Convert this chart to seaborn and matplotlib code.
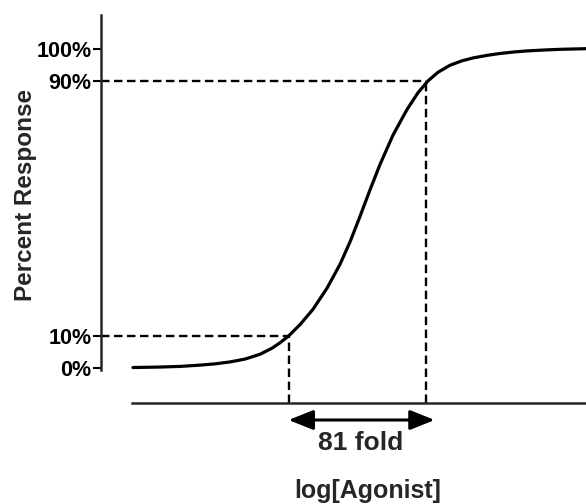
import matplotlib
matplotlib.use("Agg")
import matplotlib.pyplot as plt
import seaborn as sns
import pandas as pd

# ---- data ----
log_agonist = [-9.142, -8.763, -8.482, -8.202, -7.992, -7.781, -7.571, -7.360,
               -7.192, -7.080, -6.961, -6.799, -6.617, -6.421, -6.238, -6.098,
               -5.958, -5.818, -5.677, -5.495, -5.299, -5.144, -5.004, -4.864,
               -4.696, -4.527, -4.373, -4.177, -3.994, -3.784, -3.616, -3.363,
               -3.153, -2.788]
response = [0.15, 0.3, 0.5, 0.9, 1.3, 1.9, 2.8, 4.3,
            6.2, 7.9, 10.0, 13.6, 18.4, 25.0, 32.5, 39.5,
            47.5, 55.8, 63.8, 73.0, 81.0, 86.3, 90.0, 92.7,
            94.9, 96.3, 97.2, 98.0, 98.6, 99.1, 99.4, 99.7,
            99.9, 100.1]
ytick_values = [0, 10, 90, 100]
ytick_labels = ["0%", "10%", "90%", "100%"]
ec10_log = -6.96
ec90_log = -5.03
arrow_right_log = -4.91
fold_label = "81 fold"
xlabel = "log[Agonist]"
ylabel = "Percent Response"

df = pd.DataFrame({"log_agonist": log_agonist, "response": response})

sns.set_style("ticks")
plt.rcParams["font.family"] = ["Liberation Sans", "DejaVu Sans"]

fig = plt.figure(figsize=(5.86, 5.04), dpi=100)
ax = fig.add_axes([101 / 586, 101 / 504, 485 / 586, 388 / 504])

xmin, xmax = -9.590, -2.788
ymin, ymax = -10.97, 110.66

sns.lineplot(data=df, x="log_agonist", y="response", color="black", lw=2.3,
             ax=ax, clip_on=False)

dash = (0, (3.6, 1.9))
dash_lw = 1.7
# horizontal dashed guides
ax.plot([xmin, ec10_log], [10, 10], color="black", lw=dash_lw, ls=dash)
ax.plot([xmin, ec90_log], [90, 90], color="black", lw=dash_lw, ls=dash)
# vertical dashed guides
ax.plot([ec10_log, ec10_log], [ymin, 10], color="black", lw=dash_lw, ls=dash)
ax.plot([ec90_log, ec90_log], [ymin, 90], color="black", lw=dash_lw, ls=dash)

ax.set_xlim(xmin, xmax)
ax.set_ylim(ymin, ymax)

for s in ["top", "right"]:
    ax.spines[s].set_visible(False)
ax.spines["left"].set_linewidth(1.8)
ax.spines["bottom"].set_linewidth(1.8)
ax.spines["left"].set_bounds(-0.6, ymax)
ax.spines["bottom"].set_bounds(-9.155, xmax)

ax.set_xticks([])
ax.set_yticks(ytick_values)
ax.set_yticklabels(ytick_labels, fontsize=15.5, fontweight="bold")
ax.tick_params(axis="y", length=6, width=1.5, pad=1, colors="black")
ax.set_xlabel("")
ax.set_ylabel("")

# double-headed arrow
ax.annotate("", xy=(ec10_log, -16.3), xytext=(arrow_right_log, -16.3),
            xycoords="data", annotation_clip=False,
            arrowprops=dict(arrowstyle="<|-|>,head_length=0.75,head_width=0.3",
                            mutation_scale=20, color="black", lw=2.2,
                            shrinkA=0, shrinkB=0))
ax.text(-5.95, -23.5, fold_label, ha="center", va="center", fontsize=19,
        fontweight="bold", clip_on=False)
ax.text(-5.85, -38.6, xlabel, ha="center", va="center", fontsize=18,
        fontweight="bold", clip_on=False)
ax.text(-0.155, 0.536, ylabel, rotation=90, ha="center", va="center",
        fontsize=17.5, fontweight="bold", transform=ax.transAxes)

fig.savefig("out.png", dpi=100)
